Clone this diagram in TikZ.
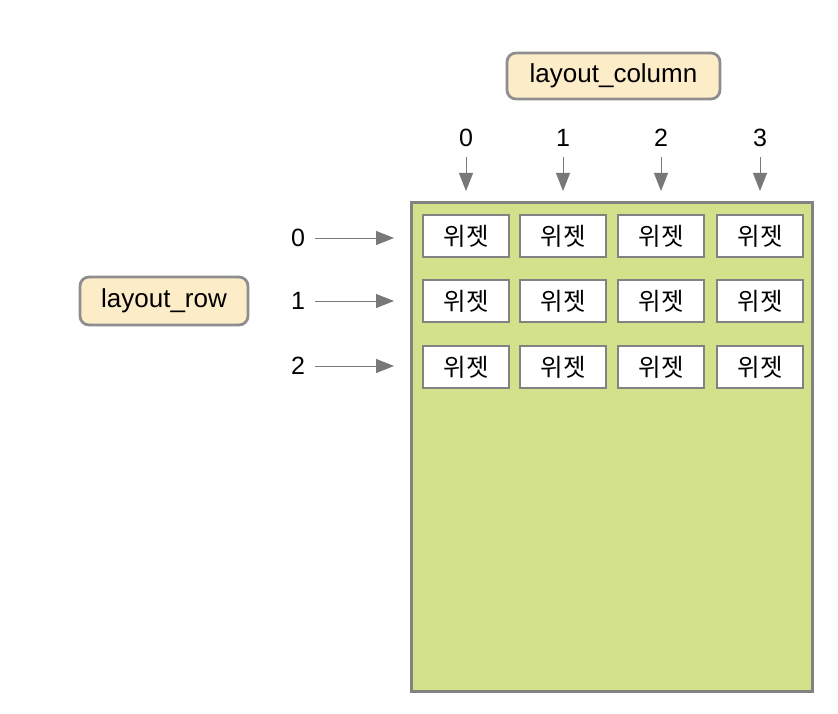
\documentclass[tikz,border=0pt]{standalone}
\usepackage{fontspec}
\setmainfont{Liberation Sans}
\newfontfamily\kr{Noto Sans CJK KR}
\usetikzlibrary{arrows.meta}
\definecolor{panelgreen}{RGB}{211,226,138}
\definecolor{framegray}{RGB}{130,130,130}
\definecolor{cream}{RGB}{253,236,200}
\definecolor{arrowgray}{RGB}{120,120,120}
\tikzset{
  widget/.style={draw=framegray, line width=2.8pt, fill=white, minimum width=86pt, minimum height=42pt, inner sep=0pt, font=\kr\fontsize{24.5}{27}\selectfont},
  tag/.style={draw=framegray!90, line width=2.8pt, fill=cream, rounded corners=9pt, inner sep=0pt, font=\fontsize{26}{30}\selectfont},
  idx/.style={inner sep=0pt, font=\fontsize{25}{29}\selectfont},
  ptr/.style={draw=arrowgray, line width=0.9pt, -{Triangle[length=18pt, width=14pt, fill=arrowgray]}}
}
\begin{document}
\begin{tikzpicture}[x=1pt, y=-1pt]
\useasboundingbox (0,0) rectangle (838,714);
\node[draw=framegray, line width=2.8pt, fill=panelgreen, minimum width=401pt, minimum height=489pt, inner sep=0pt] (panel) at (612,447) {};
\foreach \c/\x in {0/466,1/563,2/661,3/760}{
  \foreach \r/\y in {0/236,1/301,2/367}{
    \node[widget] (w\r\c) at (\x,\y) {위젯};
  }
  \node[idx] (c\c) at (\x,138) {\c};
  \coordinate (cs\c) at (\x,157);
  \coordinate (ct\c) at (\x,191);
  \draw[ptr] (cs\c) -- (ct\c);
}
\foreach \r/\y in {0/238,1/301,2/366}{
  \node[idx] (r\r) at (298,\y) {\r};
  \coordinate (rs\r) at (315,\y);
  \coordinate (rt\r) at (394,\y);
  \draw[ptr] (rs\r) -- (rt\r);
}
\node[tag, minimum width=213pt, minimum height=46pt] (colTag) at (613.5,76) {layout\_column};
\node[tag, minimum width=168pt, minimum height=48pt] (rowTag) at (164,301) {layout\_row};
\end{tikzpicture}
\end{document}
